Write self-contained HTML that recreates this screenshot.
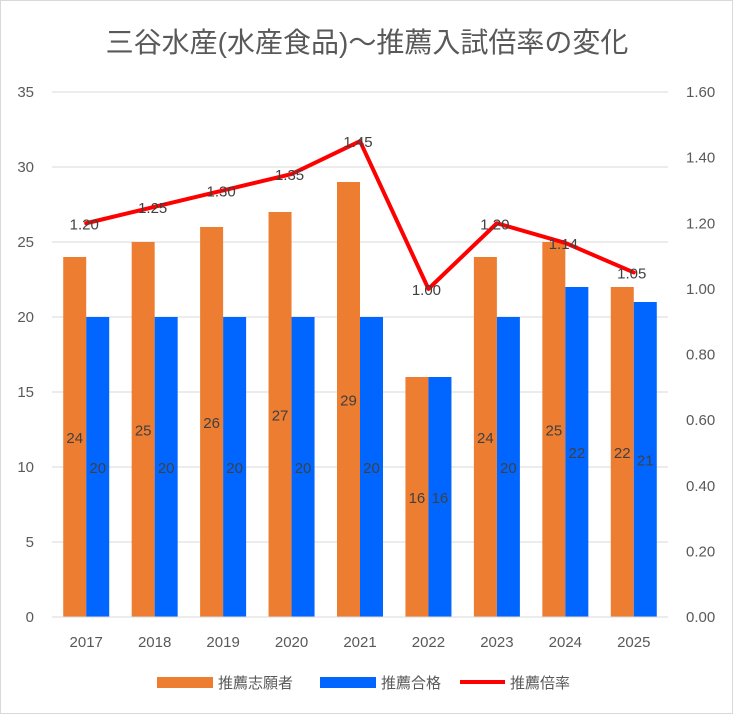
<!DOCTYPE html>
<html><head><meta charset="utf-8">
<style>
body{margin:0;background:#fff;}
svg{display:block;font-family:"Liberation Sans","Noto Sans CJK JP",sans-serif;}
</style></head>
<body>
<svg id="chart" width="733" height="714">
<rect x="0.5" y="0.5" width="732" height="713" fill="#fff" stroke="#d9d9d9"/>
<text x="367" y="52" text-anchor="middle" font-size="28" fill="#595959">三谷水産(水産食品)～推薦入試倍率の変化</text>
<g id="grid"></g><g id="bars"></g><g id="line"></g><g id="labels"></g><g id="axes"></g>
<g>
<rect x="157" y="677" width="56" height="11" fill="#ed7d31"/>
<text x="218" y="688" font-size="15" fill="#595959">推薦志願者</text>
<rect x="320" y="677" width="56" height="11" fill="#0066ff"/>
<text x="381" y="688" font-size="15" fill="#595959">推薦合格</text>
<line x1="460" y1="682" x2="505" y2="682" stroke="#ff0000" stroke-width="4"/>
<text x="510" y="688" font-size="15" fill="#595959">推薦倍率</text>
</g>
</svg>
<script>
const categories=["2017","2018","2019","2020","2021","2022","2023","2024","2025"];
const applicants=[24,25,26,27,29,16,24,25,22];
const passed=[20,20,20,20,20,16,20,22,21];
const ratio=[1.20,1.25,1.30,1.35,1.45,1.00,1.20,1.14,1.05];
const leftTicks=[0,5,10,15,20,25,30,35];
const rightTicks=["0.00","0.20","0.40","0.60","0.80","1.00","1.20","1.40","1.60"];
const NS="http://www.w3.org/2000/svg";
const L=52,R=668,T=92,B=617;
const yL=v=>B-(v/35)*(B-T);
const yR=v=>B-(v/1.6)*(B-T);
const step=(R-L)/categories.length;
const xC=i=>L+step*(i+0.5);
const bw=23;
function mk(tag,attrs,parent,text){const e=document.createElementNS(NS,tag);for(const k in attrs)e.setAttribute(k,attrs[k]);if(text!==undefined)e.textContent=text;document.getElementById(parent).appendChild(e);return e;}
leftTicks.forEach(v=>{
 const g=mk('line',{x1:L,x2:R,y1:yL(v),y2:yL(v),stroke:'#d9d9d9','stroke-width':1},'grid');
 
 
 const t=mk('text',{x:34,y:yL(v)+5,'text-anchor':'end','font-size':15,fill:'#595959'},'axes',String(v));
 
 
});
rightTicks.forEach(s=>{
 const t=mk('text',{x:686,y:yR(parseFloat(s))+5,'font-size':15,fill:'#595959'},'axes',s);
 
 
});
categories.forEach((c,i)=>{
 const t=mk('text',{x:xC(i),y:647,'text-anchor':'middle','font-size':15,fill:'#595959'},'axes',c);
 
 
 const a=mk('rect',{x:xC(i)-bw,y:yL(applicants[i]),width:bw,height:B-yL(applicants[i]),fill:'#ed7d31'},'bars');
 
 
 const p=mk('rect',{x:xC(i),y:yL(passed[i]),width:bw,height:B-yL(passed[i]),fill:'#0066ff'},'bars');
 
 
 const la=mk('text',{x:xC(i)-bw/2,y:(yL(applicants[i])+B)/2+6,'text-anchor':'middle','font-size':15,fill:'#404040'},'labels',String(applicants[i]));
 
 
 const lp=mk('text',{x:xC(i)+bw/2,y:(yL(passed[i])+B)/2+6,'text-anchor':'middle','font-size':15,fill:'#404040'},'labels',String(passed[i]));
 
 
 const lr=mk('text',{x:xC(i)-2,y:yR(ratio[i])+6,'text-anchor':'middle','font-size':15,fill:'#404040'},'labels',ratio[i].toFixed(2));
 
 
});
const base=mk('line',{x1:L,x2:R,y1:B,y2:B,stroke:'#d9d9d9'},'axes');


const pl=mk('polyline',{points:ratio.map((v,i)=>xC(i)+','+yR(v)).join(' '),fill:'none',stroke:'#ff0000','stroke-width':4,'stroke-linejoin':'round','stroke-linecap':'round'},'line');


</script>
</body></html>
